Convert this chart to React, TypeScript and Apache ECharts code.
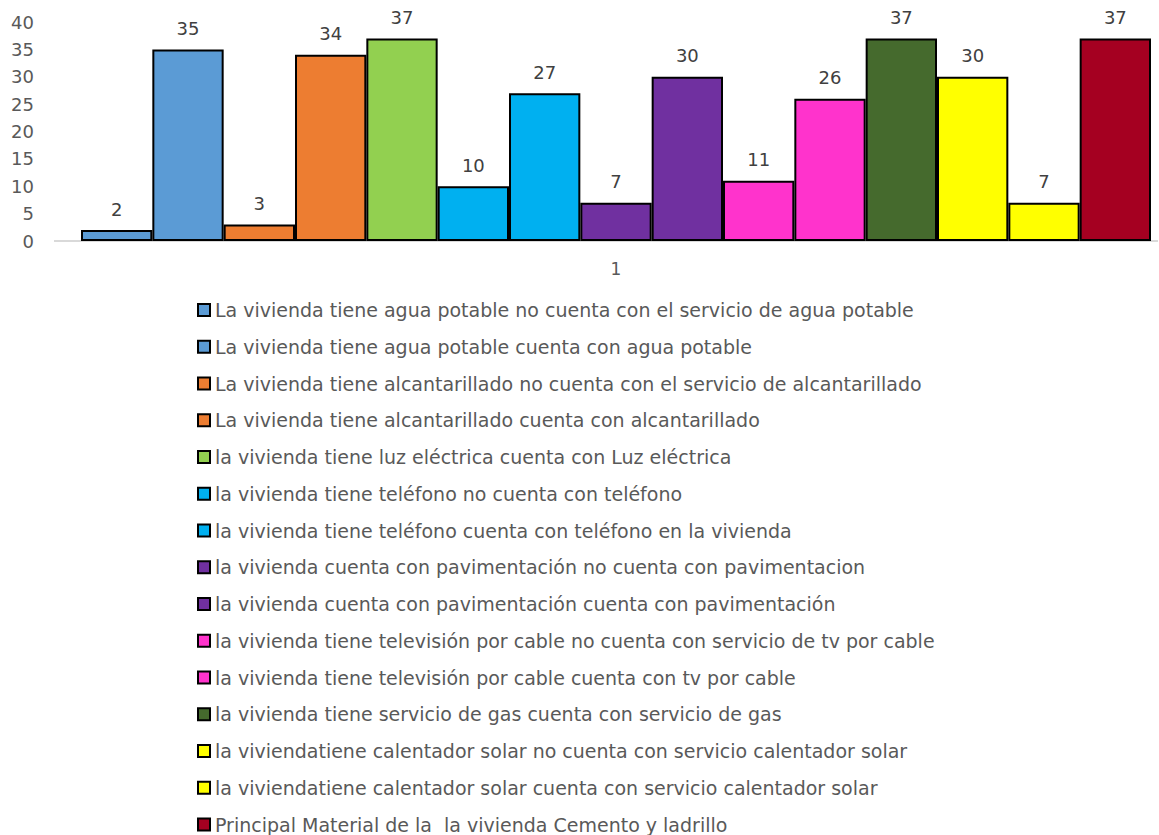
import React, { useEffect, useRef } from "react";
import * as echarts from "echarts";

const categories = ["1"];
const seriesNames = [
  "La vivienda tiene agua potable no cuenta con el servicio de agua potable",
  "La vivienda tiene agua potable cuenta con agua potable",
  "La vivienda tiene alcantarillado no cuenta con el servicio de alcantarillado",
  "La vivienda tiene alcantarillado cuenta con alcantarillado",
  "la vivienda tiene luz eléctrica cuenta con Luz eléctrica",
  "la vivienda tiene teléfono no cuenta con teléfono",
  "la vivienda tiene teléfono cuenta con teléfono en la vivienda",
  "la vivienda cuenta con pavimentación no cuenta con pavimentacion",
  "la vivienda cuenta con pavimentación cuenta con pavimentación",
  "la vivienda tiene televisión por cable no cuenta con servicio de tv por cable",
  "la vivienda tiene televisión por cable cuenta con tv por cable",
  "la vivienda tiene servicio de gas cuenta con servicio de gas",
  "la viviendatiene calentador solar no cuenta con servicio calentador solar",
  "la viviendatiene calentador solar cuenta con servicio calentador solar",
  "Principal Material de la  la vivienda Cemento y ladrillo",
];
const seriesValues = [2, 35, 3, 34, 37, 10, 27, 7, 30, 11, 26, 37, 30, 7, 37];
const seriesColors = [
  "#5B9BD5", "#5B9BD5", "#ED7D31", "#ED7D31", "#92D050",
  "#00B0F0", "#00B0F0", "#7030A0", "#7030A0", "#FF33CC",
  "#FF33CC", "#456A2D", "#FFFF00", "#FFFF00", "#A50021",
];
const yTicks = { min: 0, max: 40, interval: 5 };

export default function App() {
  const ref = useRef<HTMLDivElement>(null);
  useEffect(() => {
    if (!ref.current) return;
    const chart = echarts.init(ref.current, null, { renderer: "svg" });
    const font = "'DejaVu Sans', sans-serif";
    chart.setOption({
      animation: false,
      backgroundColor: "#ffffff",
      grid: { left: 81, right: 8, top: 22, height: 219, containLabel: false },
      xAxis: {
        type: "category",
        data: categories,
        axisLine: { lineStyle: { color: "#d9d9d9", width: 2 } },
        axisTick: { show: false },
        axisLabel: { color: "#595959", fontSize: 17, fontFamily: font, margin: 19 },
      },
      yAxis: {
        type: "value",
        min: yTicks.min,
        max: yTicks.max,
        interval: yTicks.interval,
        axisLine: { show: false },
        axisTick: { show: false },
        splitLine: { show: false },
        axisLabel: { color: "#595959", fontSize: 18, fontFamily: font, margin: 47 },
      },
      graphic: [
        {
          type: "line",
          shape: { x1: 54, y1: 241, x2: 82, y2: 241 },
          style: { stroke: "#d9d9d9", lineWidth: 2 },
          z: 0,
        },
        {
          type: "line",
          shape: { x1: 1150, y1: 241, x2: 1158, y2: 241 },
          style: { stroke: "#d9d9d9", lineWidth: 2 },
          z: 0,
        },
      ],
      legend: {
        orient: "vertical",
        left: 197,
        top: 299,
        height: 600,
        padding: 0,
        itemWidth: 12,
        itemHeight: 12,
        itemGap: 14.75,
        icon: "rect",
        textStyle: { color: "#595959", fontSize: 19, fontFamily: font, lineHeight: 22 },
        data: seriesNames,
      },
      series: seriesNames.map((name, i) => ({
        name,
        type: "bar",
        data: [seriesValues[i]],
        barGap: "0%",
        barCategoryGap: "0%",
        itemStyle: { color: seriesColors[i], borderColor: "#000000", borderWidth: 2 },
        label: {
          show: true,
          position: "top",
          distance: 12,
          color: "#404040",
          fontSize: 18,
          fontFamily: font,
        },
      })),
    });
    return () => chart.dispose();
  }, []);
  return (
    <div
      ref={ref}
      style={{ position: "absolute", left: 0, top: 0, width: 1159, height: 835 }}
    />
  );
}
